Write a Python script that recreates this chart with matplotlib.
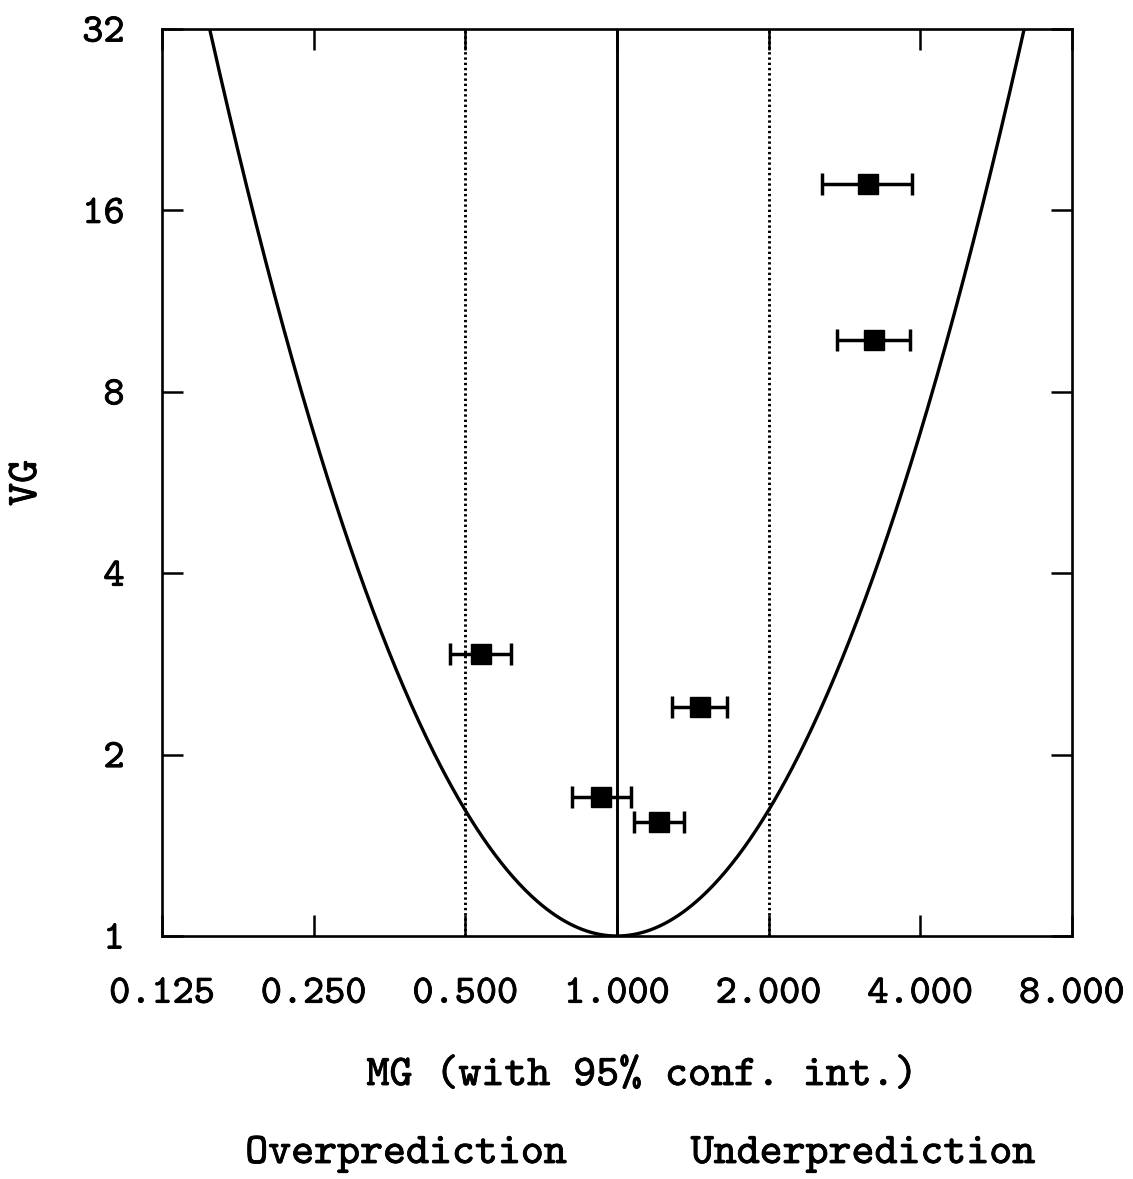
import numpy as np
import matplotlib
matplotlib.use("Agg")
import matplotlib.pyplot as plt
import matplotlib.patheffects as pe
from matplotlib.ticker import FixedLocator, FixedFormatter, NullLocator

# donnees
mg = [3.15, 3.24, 0.537, 1.461, 0.930, 1.211]
vg = [17.7, 9.75, 2.94, 2.40, 1.70, 1.546]
mg_low = [2.55, 2.73, 0.466, 1.286, 0.814, 1.081]
mg_high = [3.85, 3.81, 0.616, 1.653, 1.066, 1.358]

x_ticks = [0.125, 0.25, 0.5, 1.0, 2.0, 4.0, 8.0]
x_labels = ["0.125", "0.250", "0.500", "1.000", "2.000", "4.000", "8.000"]
y_ticks = [1, 2, 4, 8, 16, 32]
y_labels = ["1", "2", "4", "8", "16", "32"]

font = "cmtt10"
fs_tick = 29
fs_lab = 31.5
bold = [pe.withStroke(linewidth=0.6, foreground="black")]

fig = plt.figure(figsize=(11.33, 11.79), dpi=100)
ax = fig.add_axes([0.143, 0.2061, 0.803, 0.7693])

# courbe VG = exp((ln MG)^2)
x_curve = np.logspace(np.log10(0.125), np.log10(8), 600)
y_curve = np.exp(np.log(x_curve) ** 2)
ax.plot(x_curve, y_curve, color="black", lw=2.4)

ax.axvline(1.0, color="black", lw=2.1)
ax.axvline(0.5, color="black", lw=2.1, ls=(0, (0.8, 1.0)))
ax.axvline(2.0, color="black", lw=2.1, ls=(0, (0.8, 1.0)))

xerr = [np.array(mg) - np.array(mg_low), np.array(mg_high) - np.array(mg)]
ax.errorbar(mg, vg, xerr=xerr, fmt="s", color="black", ms=14,
            elinewidth=2.5, capsize=8, capthick=2.5, zorder=5)

ax.set_xscale("log")
ax.set_yscale("log")
ax.set_xlim(0.125, 8)
ax.set_ylim(1, 32)

ax.xaxis.set_major_locator(FixedLocator(x_ticks))
ax.xaxis.set_major_formatter(FixedFormatter(x_labels))
ax.xaxis.set_minor_locator(NullLocator())
ax.yaxis.set_major_locator(FixedLocator(y_ticks))
ax.yaxis.set_major_formatter(FixedFormatter(y_labels))
ax.yaxis.set_minor_locator(NullLocator())

ax.tick_params(which="major", direction="in", length=15, width=1.8,
               top=True, right=True, labelsize=fs_tick)
ax.tick_params(axis="x", pad=30)
ax.tick_params(axis="y", pad=27)
for lab in ax.get_xticklabels() + ax.get_yticklabels():
    lab.set_fontfamily(font)
    lab.set_path_effects(bold)
for s in ax.spines.values():
    s.set_linewidth(1.9)

fig.text(28 / 1133, 1 - 483 / 1179, "VG", fontfamily=font, fontsize=fs_lab,
         rotation=90, ha="center", va="center", path_effects=bold)
fig.text(642 / 1133, 1 - 1077 / 1179, "MG (with 95% conf. int.)",
         fontfamily=font, fontsize=fs_lab, ha="center", va="center",
         path_effects=bold)

fig.text(406 / 1133, 1 - 1155 / 1179, "Overprediction", fontfamily=font,
         fontsize=fs_lab, ha="center", va="center", path_effects=bold)
fig.text(863 / 1133, 1 - 1155 / 1179, "Underprediction", fontfamily=font,
         fontsize=fs_lab, ha="center", va="center", path_effects=bold)

fig.savefig("out.png", dpi=100)
